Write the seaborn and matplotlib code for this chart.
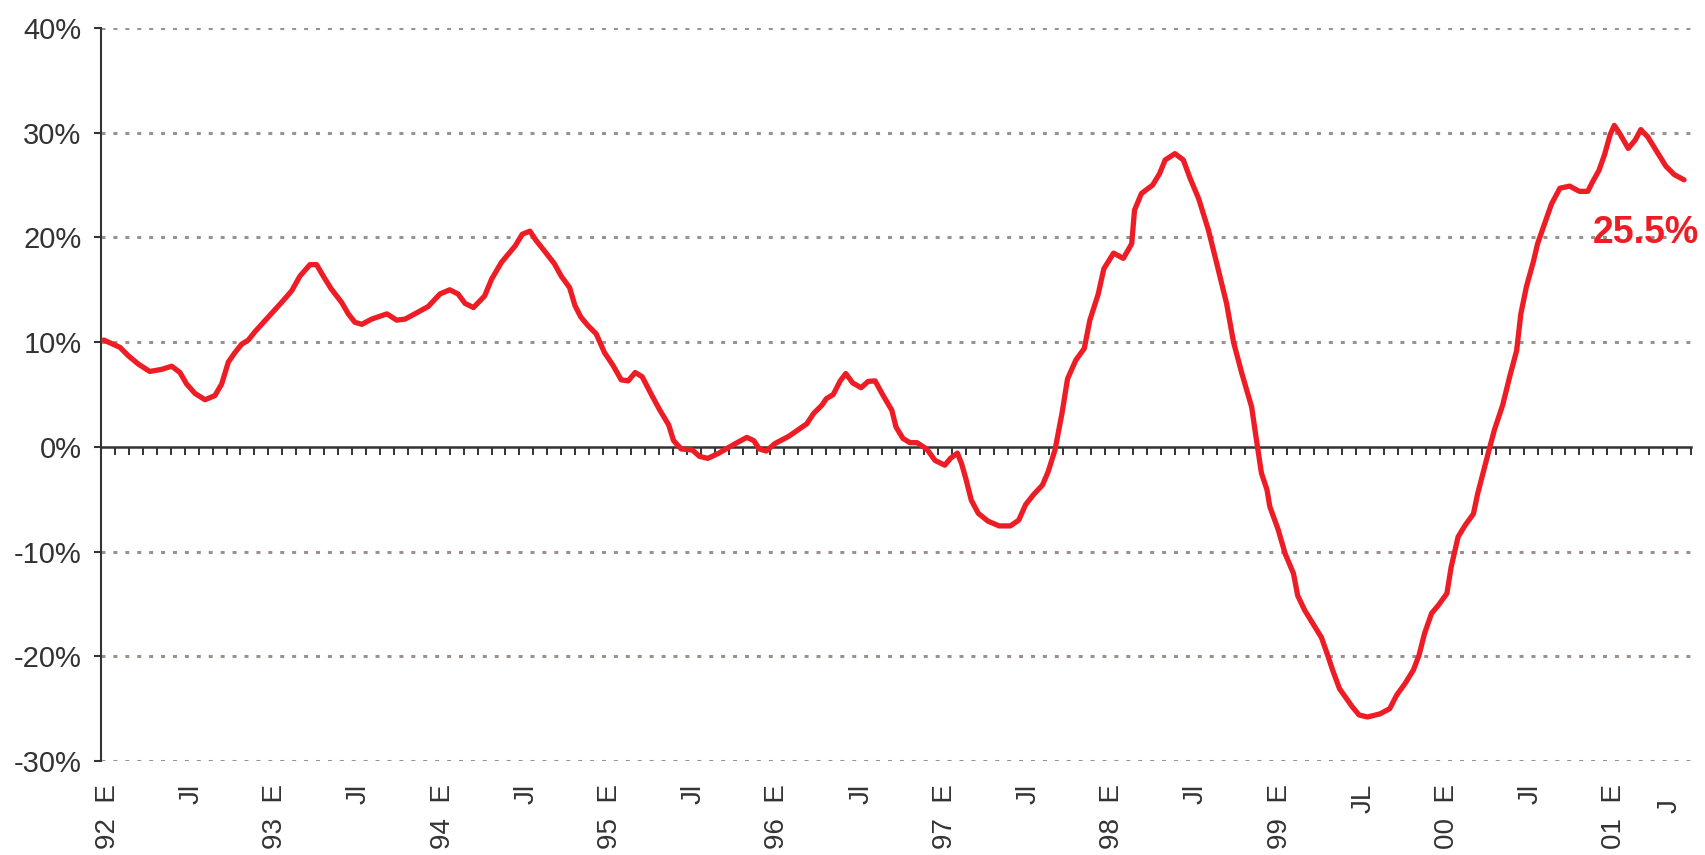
import matplotlib
matplotlib.use("Agg")
import matplotlib.pyplot as plt
import pandas as pd
import seaborn as sns

# month position since Jan 1992 (fractional) and year-on-year change (%)
months_92_93 = [0.2, 1.36, 1.96, 2.68, 3.5, 4.35, 5.07, 5.66, 6.14, 6.74,
                7.46, 8.17, 8.65, 9.13, 9.6, 10.08, 10.56, 11.04, 12.0, 12.95,
                13.67, 14.26, 14.98, 15.46, 15.94, 16.5, 17.25, 17.73, 18.2, 18.7,
                19.4, 20.5, 21.2, 21.8]
values_92_93 = [10.2, 9.5, 8.7, 7.9, 7.2, 7.4, 7.7, 7.1, 6.0, 5.1,
                4.5, 4.9, 6.0, 8.1, 9.0, 9.8, 10.2, 11.0, 12.4, 13.8,
                14.9, 16.3, 17.4, 17.4, 16.3, 15.1, 13.8, 12.7, 11.9, 11.7,
                12.2, 12.7, 12.1, 12.2]

months_94_95 = [22.5, 23.46, 24.3, 25.0, 25.6, 26.1, 26.7, 27.5, 28.0, 28.7,
                29.7, 30.2, 30.75, 31.2, 31.8, 32.5, 33.0, 33.6, 33.98, 34.4,
                34.9, 35.5, 36.1, 36.7, 37.3, 37.8, 38.3, 38.8, 39.5, 40.07,
                40.7, 41.05, 41.6, 42.4, 42.9, 43.5, 44.3]
values_94_95 = [12.7, 13.4, 14.6, 15.0, 14.6, 13.7, 13.3, 14.4, 16.0, 17.6,
                19.2, 20.3, 20.6, 19.7, 18.7, 17.5, 16.3, 15.2, 13.5, 12.4,
                11.6, 10.8, 9.0, 7.8, 6.4, 6.3, 7.1, 6.7, 4.9, 3.5,
                2.1, 0.6, -0.2, -0.3, -0.9, -1.1, -0.6]

months_96_97 = [45.4, 46.3, 46.8, 47.2, 47.7, 48.3, 49.3, 50.0, 50.6, 51.1,
                51.7, 52.0, 52.5, 53.0, 53.4, 53.9, 54.5, 55.0, 55.5, 56.08,
                56.7, 57.0, 57.5, 58.0, 58.5, 59.2, 59.8, 60.5, 60.9, 61.4,
                61.7, 62.0, 62.4, 62.9, 63.6, 64.4, 65.2, 65.8, 66.3, 66.9,
                67.5, 67.9, 68.4]
values_96_97 = [0.25, 0.9, 0.6, -0.2, -0.4, 0.3, 1.0, 1.65, 2.2, 3.2,
                4.0, 4.6, 5.0, 6.3, 7.0, 6.1, 5.65, 6.25, 6.3, 4.9,
                3.5, 1.9, 0.8, 0.4, 0.4, -0.2, -1.3, -1.75, -1.1, -0.6,
                -1.6, -3.0, -5.1, -6.35, -7.1, -7.55, -7.55, -7.0, -5.5, -4.5,
                -3.65, -2.4, -0.3]

months_98 = [68.9, 69.3, 69.9, 70.5, 70.9, 71.5, 71.9, 72.6, 73.3, 73.9,
             74.1, 74.6, 75.4, 75.9, 76.3, 77.0, 77.6, 78.1, 78.7, 79.4,
             80.0, 80.7, 81.2, 81.8, 82.5, 82.85]
values_98 = [3.2, 6.5, 8.3, 9.4, 12.1, 14.6, 17.0, 18.5, 18.0, 19.4,
             22.6, 24.2, 25.0, 26.1, 27.4, 28.0, 27.4, 25.6, 23.7, 20.7,
             17.5, 13.7, 10.0, 7.0, 3.8, 0.6]

months_99 = [83.2, 83.6, 83.8, 84.4, 84.9, 85.5, 85.8, 86.3, 86.9, 87.5,
             87.9, 88.3, 88.8, 89.7, 90.2, 90.8, 91.7, 92.4, 92.9, 93.5,
             94.1, 94.5, 94.9, 95.4, 95.9, 96.5, 96.8, 97.3, 97.8, 98.4,
             98.7]
values_99 = [-2.5, -4.1, -5.7, -7.9, -10.2, -12.1, -14.2, -15.6, -16.9, -18.2,
             -19.7, -21.3, -23.1, -24.8, -25.6, -25.8, -25.5, -25.0, -23.7, -22.6,
             -21.3, -19.9, -17.8, -15.9, -15.1, -14.0, -11.5, -8.6, -7.5, -6.4,
             -4.5]

months_00_01 = [99.46, 99.9, 100.5, 101.0, 101.5, 101.8, 102.2, 102.7, 103.0, 103.5,
                104.0, 104.6, 105.3, 106.0, 106.6, 106.9, 107.4, 107.8, 108.2, 108.5,
                108.9, 109.5, 110.0, 110.4, 110.9, 111.5, 112.2, 112.8, 113.5]
values_00_01 = [-0.6, 1.6, 4.0, 6.7, 9.2, 12.7, 15.3, 17.7, 19.4, 21.3,
                23.2, 24.7, 24.9, 24.4, 24.4, 25.2, 26.4, 27.9, 29.8, 30.7,
                29.9, 28.5, 29.3, 30.3, 29.6, 28.3, 26.8, 26.0, 25.5]

# axis labels
label_months = [0, 6, 12, 18, 24, 30, 36, 42, 48, 54, 60, 66, 72, 78, 84, 90, 96, 102, 108, 112]
x_labels = ["92  E", "Jl", "93  E", "Jl", "94  E", "Jl", "95  E", "Jl", "96  E", "Jl",
            "97  E", "Jl", "98  E", "Jl", "99  E", "JL", "00  E", "Jl", "01  E", "J  "]
y_ticks = [-30, -20, -10, 0, 10, 20, 30, 40]
y_labels = ["-30%", "-20%", "-10%", "0%", "10%", "20%", "30%", "40%"]
n_months = 114

df = pd.DataFrame({
    "mes": months_92_93 + months_94_95 + months_96_97 + months_98 + months_99 + months_00_01,
    "variacion": values_92_93 + values_94_95 + values_96_97 + values_98 + values_99 + values_00_01,
})

red = "#ee1c25"
dark = "#333333"

sns.set_style("white")
plt.rcParams["font.family"] = ["Liberation Sans", "DejaVu Sans"]

fig = plt.figure(figsize=(17.06, 8.55), dpi=100)
ax = fig.add_axes([101 / 1706, 1 - 761 / 855, (1691 - 101) / 1706, (761 - 28) / 855])

sns.lineplot(data=df, x="mes", y="variacion", color=red, linewidth=3.8, ax=ax,
             solid_joinstyle="round", solid_capstyle="round", zorder=3)

ax.set_xlim(0, n_months)
ax.set_ylim(-30, 40)
ax.set_xlabel("")
ax.set_ylabel("")

# y axis
ax.set_yticks(y_ticks)
ax.set_yticklabels(y_labels)
ax.tick_params(axis="y", left=True, direction="out", length=5, width=1.5, color=dark,
               labelsize=21, labelcolor=dark, pad=9)
ax.set_axisbelow(True)
ax.yaxis.grid(True, color="#9b918d", linestyle=(0, (1.3, 2.6)), linewidth=2.2)
ax.xaxis.grid(False)
for t, line in zip(ax.get_yticks(), ax.get_ygridlines()):
    if t == 0:
        line.set_visible(False)

# month labels at the bottom
ax.set_xticks([m + 0.5 for m in label_months])
ax.set_xticklabels(x_labels, rotation=90)
ax.tick_params(axis="x", bottom=True, length=0, pad=16.5, labelsize=20, labelcolor=dark)

for side in ["top", "right", "bottom"]:
    ax.spines[side].set_visible(False)
ax.spines["left"].set_color(dark)
ax.spines["left"].set_linewidth(1.5)

# zero line with monthly ticks
sec = ax.secondary_xaxis((0 - (-30)) / 70)
sec.set_xticks(range(0, n_months + 1))
sec.tick_params(axis="x", direction="out", length=6, width=1.4, color=dark, labelbottom=False)
sec.spines["bottom"].set_color(dark)
sec.spines["bottom"].set_linewidth(1.8)

ax.text(110.8, 20.45, f"{df['variacion'].iloc[-1]:.1f}%", color=red, fontsize=27,
        fontweight="bold", ha="center", va="center", clip_on=False)

fig.savefig("out.png", dpi=100)
